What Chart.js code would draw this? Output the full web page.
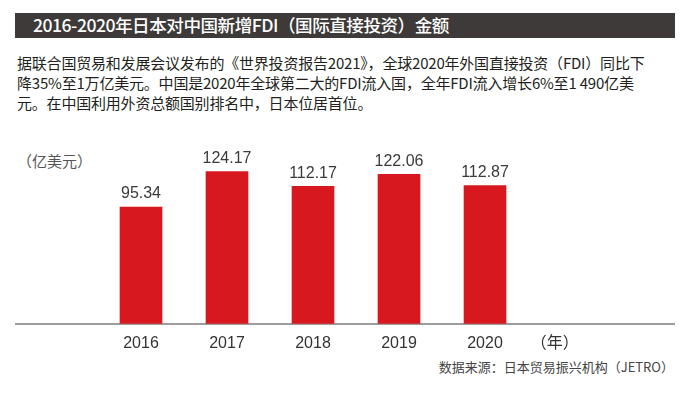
<!DOCTYPE html>
<html>
<head>
<meta charset="utf-8">
<script src="https://cdn.jsdelivr.net/npm/chart.js@4"></script>
<style>
  body { margin: 0; width: 688px; height: 396px; background: #fff; position: relative; overflow: hidden;
         font-family: "Noto Sans CJK SC", "Noto Sans", sans-serif; color: #231f20; }
  .title { position: absolute; left: 15px; top: 13px; width: 660px; height: 25px; background: #3e3a39; }
  .title span { position: absolute; left: 18px; top: -1px; color: #fff; font-size: 17.6px; font-weight: 500;
                letter-spacing: -0.5px; line-height: 26px; white-space: nowrap; }
  .desc { position: absolute; left: 17px; top: 53px; font-size: 15px; line-height: 20px; white-space: nowrap; letter-spacing: -0.2px; }
  .unit { position: absolute; left: 17px; top: 150px; font-size: 15px; color: #555; }
  .src { position: absolute; right: 14px; top: 357px; font-size: 13px; color: #444; white-space: nowrap; }
  #wrap { position: absolute; left: 15px; top: 140px; width: 660px; height: 215px; }
</style>
</head>
<body>
<div class="title"><span>2016-2020年日本对中国新增FDI（国际直接投资）金额</span></div>
<div class="desc">据联合国贸易和发展会议发布的《世界投资报告2021》，全球2020年外国直接投资（FDI）同比下<br>降35%至1万亿美元。中国是2020年全球第二大的FDI流入国，全年FDI流入增长6%至1 490亿美<br>元。在中国利用外资总额国别排名中，日本位居首位。</div>
<div class="unit">（亿美元）</div>
<div id="wrap"><canvas id="c"></canvas></div>
<div class="src">数据来源：日本贸易振兴机构（JETRO）</div>
<script>
// chart data
const years = ['2016', '2017', '2018', '2019', '2020'];
const fdi = [95.34, 124.17, 112.17, 122.06, 112.87];
const yearUnit = '（年）';

// value labels above the bars
const valueLabels = {
  id: 'valueLabels',
  afterDatasetsDraw(chart) {
    const ctx = chart.ctx;
    ctx.save();
    ctx.font = '16px "Liberation Sans", Arial, sans-serif';
    ctx.fillStyle = '#3a3a3a';
    ctx.textAlign = 'center';
    ctx.textBaseline = 'bottom';
    chart.getDatasetMeta(0).data.forEach((bar, i) => {
      ctx.fillText(fdi[i].toFixed(2), bar.x, bar.y - 5);
    });
    ctx.restore();
  }
};

new Chart(document.getElementById('c'), {
  type: 'bar',
  data: {
    datasets: [{
      data: fdi.map((v, i) => ({ x: i, y: v })),
      backgroundColor: '#d7191f',
      barThickness: 42
    }]
  },
  options: {
    responsive: true,
    maintainAspectRatio: false,
    animation: false,
    layout: { padding: 0 },
    plugins: { legend: { display: false }, tooltip: { enabled: false } },
    scales: {
      x: {
        type: 'linear',
        offset: false,
        min: -1.465,
        max: 6.209,
        grid: { display: false },
        border: { display: true, color: '#9d9d9d', width: 2 },
        afterBuildTicks(scale) {
          scale.ticks = years.map((y, i) => ({ value: i })).concat([{ value: 4.81 }]);
        },
        ticks: {
          autoSkip: false,
          maxRotation: 0,
          padding: 2,
          color: '#333',
          font: { size: 16, family: '"Liberation Sans", Arial, "Noto Sans CJK SC", sans-serif' },
          callback(v, i) { return i < years.length ? years[i] : yearUnit; }
        }
      },
      y: {
        display: false,
        min: 0,
        max: 150
      }
    }
  },
  plugins: [valueLabels]
});
</script>
</body>
</html>
